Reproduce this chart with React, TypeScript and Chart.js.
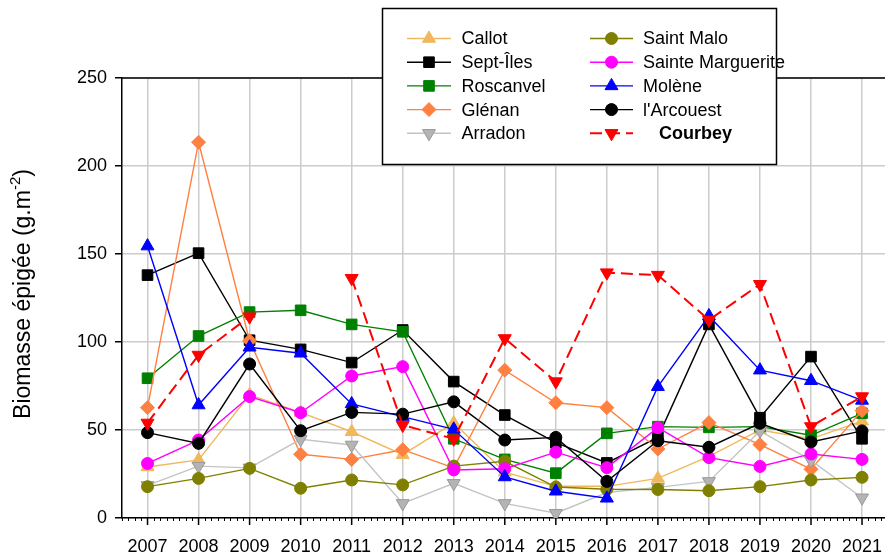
import React, { useEffect, useRef } from 'react';
import { Chart, registerables } from 'chart.js';

Chart.register(...registerables);

const years = [2007, 2008, 2009, 2010, 2011, 2012, 2013, 2014, 2015, 2016, 2017, 2018, 2019, 2020, 2021];
const yTicks = [0, 50, 100, 150, 200, 250];

const callot = [29, 33, 70, 60, 49, 36, 54, 26, 18, 18, 22.5, 35, 50, 45, 55];
const septIles = [138, 150.5, 101, 95.8, 88.3, 106.8, 77.5, 58.5, 42.8, 31.3, 45.8, 110, 57, 91.7, 45];
const roscanvel = [79.4, 103.4, 117, 118, 110, 105.8, 45, 33.3, 25.5, 48.1, 51.9, 51.5, 51.9, 47, 59.5];
const glenan = [62.7, 213.5, 100.7, 36.2, 33.3, 38.8, 28.5, 84, 65.5, 62.7, 39.2, 54.2, 41.7, 27.7, 61];
const arradon = [18.5, 29.5, 28.5, 44.7, 41.5, 8.3, 19.7, 8.3, 2.7, 14.5, 17.4, 20.8, 49.5, 32.7, 11.5];
const saintMalo = [17.8, 22.5, 28.2, 16.9, 21.6, 18.8, 29.5, 32.2, 17.6, 16.3, 16.2, 15.5, 17.8, 21.6, 23.1];
const sainteMarguerite = [31, 44.3, 69, 59.8, 80.7, 86, 27.3, 28, 37.4, 28.6, 51.3, 34.3, 29.3, 36.4, 33.3];
const molene = [154.5, 64.2, 97, 93.6, 64.8, 57.6, 50.4, 23.3, 15.2, 11.2, 74.6, 114.8, 84, 78, 66.8];
const arcouest = [48.5, 42.4, 87.5, 49.6, 60, 59, 66, 44.3, 45.8, 20.8, 43.9, 40.2, 53.8, 43.2, 49.5];
const courbey = [54, 92.6, 114.4, null, 136.2, 52.8, 45, 102, 77.5, 139.4, 138, 112.5, 132.8, 52, 69];

const FONT = '"Liberation Sans", Arial, Helvetica, sans-serif';

type SeriesDef = {
  label: string;
  values: (number | null)[];
  line: string;
  fill: string;
  edge: string;
  style: string;
  radius: number;
  rotation: number;
  width: number;
  dash: number[];
  bold: boolean;
};

const series: SeriesDef[] = [
  { label: 'Callot', values: callot, line: '#F0B85C', fill: '#F0B85C', edge: '#F0B85C', style: 'triangle', radius: 7.5, rotation: 0, width: 1.4, dash: [], bold: false },
  { label: 'Sept-Îles', values: septIles, line: '#000000', fill: '#000000', edge: '#000000', style: 'rect', radius: 7.5, rotation: 0, width: 1.4, dash: [], bold: false },
  { label: 'Roscanvel', values: roscanvel, line: '#008000', fill: '#008000', edge: '#008000', style: 'rect', radius: 7.5, rotation: 0, width: 1.4, dash: [], bold: false },
  { label: 'Glénan', values: glenan, line: '#FF8040', fill: '#FF8040', edge: '#FF8040', style: 'rectRot', radius: 7, rotation: 0, width: 1.4, dash: [], bold: false },
  { label: 'Arradon', values: arradon, line: '#C4C4C4', fill: '#B4B4B4', edge: '#999999', style: 'triangle', radius: 7.5, rotation: 180, width: 1.4, dash: [], bold: false },
  { label: 'Saint Malo', values: saintMalo, line: '#808000', fill: '#808000', edge: '#808000', style: 'circle', radius: 6, rotation: 0, width: 1.4, dash: [], bold: false },
  { label: 'Sainte Marguerite', values: sainteMarguerite, line: '#FF00FF', fill: '#FF00FF', edge: '#FF00FF', style: 'circle', radius: 6, rotation: 0, width: 1.4, dash: [], bold: false },
  { label: 'Molène', values: molene, line: '#0000FF', fill: '#0000FF', edge: '#0000FF', style: 'triangle', radius: 7.5, rotation: 0, width: 1.4, dash: [], bold: false },
  { label: "l'Arcouest", values: arcouest, line: '#000000', fill: '#000000', edge: '#000000', style: 'circle', radius: 6, rotation: 0, width: 1.4, dash: [], bold: false },
  { label: 'Courbey', values: courbey, line: '#FF0000', fill: '#FF0000', edge: '#FF0000', style: 'triangle', radius: 7.5, rotation: 180, width: 2, dash: [12, 6], bold: true },
];

function drawMarker(ctx: CanvasRenderingContext2D, s: SeriesDef, x: number, y: number) {
  const r = s.radius;
  ctx.save();
  ctx.setLineDash([]);
  ctx.fillStyle = s.fill;
  ctx.strokeStyle = s.edge;
  ctx.lineWidth = 1;
  ctx.beginPath();
  if (s.style === 'circle') {
    ctx.arc(x, y, r, 0, Math.PI * 2);
  } else if (s.style === 'rect') {
    const h = Math.SQRT1_2 * r;
    ctx.rect(x - h, y - h, 2 * h, 2 * h);
  } else if (s.style === 'rectRot') {
    ctx.moveTo(x, y - r);
    ctx.lineTo(x + r, y);
    ctx.lineTo(x, y + r);
    ctx.lineTo(x - r, y);
    ctx.closePath();
  } else {
    let rad = (s.rotation * Math.PI) / 180;
    ctx.moveTo(x + Math.sin(rad) * r, y - Math.cos(rad) * r);
    rad += (2 * Math.PI) / 3;
    ctx.lineTo(x + Math.sin(rad) * r, y - Math.cos(rad) * r);
    rad += (2 * Math.PI) / 3;
    ctx.lineTo(x + Math.sin(rad) * r, y - Math.cos(rad) * r);
    ctx.closePath();
  }
  ctx.fill();
  ctx.stroke();
  ctx.restore();
}

const decorPlugin = {
  id: 'decor',
  afterLayout(chart: any) {
    // let the plot area run to the right edge of the canvas, as in the reference
    const xs = chart.scales.x;
    const right = chart.width;
    chart.chartArea.right = right;
    chart.chartArea.width = right - chart.chartArea.left;
    xs.right = right;
    xs.width = right - xs.left;
    xs.configure();
  },
  afterDraw(chart: any) {
    const ctx: CanvasRenderingContext2D = chart.ctx;
    const area = chart.chartArea;
    const xs = chart.scales.x;

    // top frame line
    ctx.save();
    ctx.strokeStyle = '#000';
    ctx.lineWidth = 1.5;
    ctx.beginPath();
    ctx.moveTo(area.left, area.top);
    ctx.lineTo(area.right, area.top);
    ctx.stroke();

    // major tick marks on x axis
    ctx.beginPath();
    years.forEach((v) => {
      const px = xs.getPixelForValue(v);
      ctx.moveTo(px, area.bottom);
      ctx.lineTo(px, area.bottom + 7);
    });
    ctx.stroke();

    // minor ticks on x axis
    ctx.lineWidth = 1;
    ctx.beginPath();
    for (let v = 2006.5; v <= 2021.45; v += 0.125) {
      if (Math.abs(v - Math.round(v)) < 1e-6) continue;
      const px = Math.round(xs.getPixelForValue(v)) + 0.5;
      ctx.moveTo(px, area.bottom);
      ctx.lineTo(px, area.bottom + 3);
    }
    ctx.stroke();
    ctx.restore();

    // y-axis title
    ctx.save();
    ctx.translate(24, 294);
    ctx.rotate(-Math.PI / 2);
    ctx.fillStyle = '#000';
    ctx.textBaseline = 'middle';
    ctx.textAlign = 'left';
    const mainFont = `23px ${FONT}`;
    const supFont = `15px ${FONT}`;
    const main = 'Biomasse épigée (g.m';
    const sup = '-2';
    const close = ')';
    ctx.font = mainFont;
    const w1 = ctx.measureText(main).width;
    const w3 = ctx.measureText(close).width;
    ctx.font = supFont;
    const w2 = ctx.measureText(sup).width;
    const total = w1 + w2 + w3;
    const x0 = -total / 2;
    ctx.font = mainFont;
    ctx.fillText(main, x0, 0);
    ctx.font = supFont;
    ctx.fillText(sup, x0 + w1, -8);
    ctx.font = mainFont;
    ctx.fillText(close, x0 + w1 + w2, 0);
    ctx.restore();

    // legend
    ctx.save();
    ctx.fillStyle = '#ffffff';
    ctx.fillRect(382.5, 8.5, 394, 156);
    ctx.strokeStyle = '#000';
    ctx.lineWidth = 1.5;
    ctx.strokeRect(382.5, 8.5, 394, 156);
    const rowY = [38.5, 62.2, 85.9, 109.6, 133.3];
    const cols = [
      { l0: 407, l1: 451, m: 429, t: 461.5 },
      { l0: 590, l1: 633, m: 611.5, t: 643 },
    ];
    series.forEach((s, i) => {
      const c = cols[Math.floor(i / 5)];
      const y = rowY[i % 5];
      ctx.save();
      ctx.strokeStyle = s.line;
      ctx.lineWidth = s.width;
      ctx.setLineDash(s.dash);
      ctx.beginPath();
      ctx.moveTo(c.l0, y);
      ctx.lineTo(c.l1, y);
      ctx.stroke();
      ctx.restore();
      drawMarker(ctx, s, c.m, y);
      ctx.fillStyle = '#000';
      ctx.textBaseline = 'middle';
      ctx.textAlign = 'left';
      ctx.font = `${s.bold ? 'bold ' : ''}18px ${FONT}`;
      ctx.fillText(s.label, s.bold ? c.t + 16 : c.t, y + 1);
    });
    ctx.restore();
  },
};

export default function App() {
  const ref = useRef<HTMLCanvasElement | null>(null);

  useEffect(() => {
    if (!ref.current) return;
    const n = series.length;
    const chart = new Chart(ref.current, {
      type: 'line',
      data: {
        datasets: series.map((s, i) => ({
          label: s.label,
          data: years.map((yr, k) => ({ x: yr, y: s.values[k] })),
          borderColor: s.line,
          backgroundColor: s.fill,
          pointBackgroundColor: s.fill,
          pointBorderColor: s.edge,
          pointBorderWidth: 1,
          pointStyle: s.style as any,
          pointRadius: s.radius,
          pointRotation: s.rotation,
          borderWidth: s.width,
          borderDash: s.dash,
          tension: 0,
          spanGaps: false,
          fill: false,
          order: n - 1 - i,
        })),
      },
      options: {
        responsive: false,
        animation: false,
        devicePixelRatio: 1,
        layout: { padding: { top: 78, right: 0, left: 0, bottom: 0 } },
        plugins: {
          legend: { display: false },
          tooltip: { enabled: false },
        },
        scales: {
          x: {
            type: 'linear',
            min: 2006.5,
            max: 2021.45,
            afterBuildTicks: (axis: any) => {
              axis.ticks = years.map((v) => ({ value: v }));
            },
            afterFit: (axis: any) => {
              axis.height = 41;
            },
            grid: {
              color: '#cccccc',
              lineWidth: 1.5,
              tickColor: 'rgba(0,0,0,0)',
              tickLength: 18,
              tickWidth: 1.5,
            },
            border: { color: '#000000', width: 1.5 },
            ticks: {
              color: '#000000',
              font: { size: 18, family: FONT },
              padding: 0,
              maxRotation: 0,
              autoSkip: false,
              callback: (v: any) => String(v),
            },
          },
          y: {
            type: 'linear',
            min: 0,
            max: 250,
            afterBuildTicks: (axis: any) => {
              axis.ticks = yTicks.map((v) => ({ value: v }));
            },
            afterFit: (axis: any) => {
              axis.width = 122;
            },
            grid: {
              color: '#cccccc',
              lineWidth: 1.5,
              tickColor: '#000000',
              tickLength: 7,
              tickWidth: 1.5,
            },
            border: { color: '#000000', width: 1.5 },
            ticks: {
              color: '#000000',
              font: { size: 18, family: FONT },
              padding: 8,
              callback: (v: any) => String(v),
            },
          },
        },
      },
      plugins: [decorPlugin],
    });
    return () => chart.destroy();
  }, []);

  return (
    <div style={{ position: 'fixed', left: 0, top: 0, width: 885, height: 559, background: '#fff' }}>
      <canvas ref={ref} width={885} height={559} style={{ display: 'block', width: 885, height: 559 }} />
    </div>
  );
}
